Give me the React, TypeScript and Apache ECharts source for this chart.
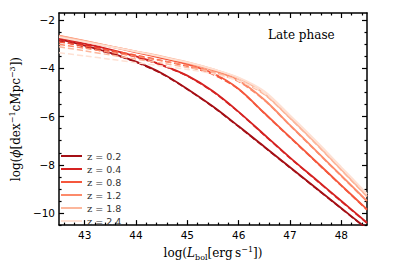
import React, { useEffect, useRef } from "react";
import * as echarts from "echarts";

const LUM = [42.5, 43, 43.5, 44, 44.5, 45, 45.5, 46, 46.5, 47, 47.5, 48, 48.5];
const Z_LABELS = ["0.2", "0.4", "0.8", "1.2", "1.8", "2.4"];
const COLORS = ["#a50f15", "#d52221", "#f5573c", "#fc8a6a", "#fcb79c", "#fee1d4"];

const SOLID_02 = [-2.78, -3.05, -3.35, -3.72, -4.2, -4.85, -5.58, -6.4, -7.25, -8.1, -8.95, -9.8, -10.65];
const SOLID_04 = [-2.72, -2.97, -3.22, -3.5, -3.85, -4.3, -4.95, -5.8, -6.75, -7.7, -8.6, -9.5, -10.4];
const SOLID_08 = [-2.66, -2.88, -3.1, -3.33, -3.57, -3.83, -4.2, -4.85, -5.85, -6.85, -7.85, -8.85, -9.85];
const SOLID_12 = [-2.64, -2.86, -3.08, -3.3, -3.52, -3.77, -4.08, -4.5, -5.3, -6.35, -7.4, -8.45, -9.5];
const SOLID_18 = [-2.66, -2.87, -3.08, -3.29, -3.5, -3.74, -4.03, -4.4, -5.05, -6.05, -7.1, -8.2, -9.3];
const SOLID_24 = [-2.7, -2.9, -3.1, -3.3, -3.52, -3.75, -4.03, -4.38, -4.95, -5.95, -7.0, -8.1, -9.2];

const DASH_02 = [-2.86, -3.1, -3.38, -3.74, -4.22, -4.87, -5.6, -6.42, -7.27, -8.12, -8.97, -9.82, -10.67];
const DASH_04 = [-2.8, -3.02, -3.26, -3.53, -3.87, -4.32, -4.97, -5.82, -6.77, -7.72, -8.62, -9.52, -10.42];
const DASH_08 = [-2.9, -3.07, -3.25, -3.45, -3.67, -3.92, -4.25, -4.87, -5.87, -6.87, -7.87, -8.87, -9.87];
const DASH_12 = [-3.0, -3.16, -3.33, -3.5, -3.68, -3.88, -4.14, -4.55, -5.32, -6.37, -7.42, -8.47, -9.52];
const DASH_18 = [-3.1, -3.27, -3.44, -3.61, -3.78, -3.96, -4.16, -4.5, -5.08, -6.07, -7.12, -8.22, -9.32];
const DASH_24 = [-3.35, -3.48, -3.62, -3.76, -3.9, -4.04, -4.22, -4.52, -5.02, -5.97, -7.02, -8.12, -9.22];

const SOLIDS = [SOLID_02, SOLID_04, SOLID_08, SOLID_12, SOLID_18, SOLID_24];
const DASHES = [DASH_02, DASH_04, DASH_08, DASH_12, DASH_18, DASH_24];

const X_MAJOR = [43, 44, 45, 46, 47, 48];
const X_MINOR = [42.6, 42.8, 43.2, 43.4, 43.6, 43.8, 44.2, 44.4, 44.6, 44.8, 45.2, 45.4, 45.6, 45.8, 46.2, 46.4, 46.6, 46.8, 47.2, 47.4, 47.6, 47.8, 48.2, 48.4];
const Y_MAJOR = [-10, -8, -6, -4, -2];
const Y_MINOR = [-10.5, -9.5, -9, -8.5, -7.5, -7, -6.5, -5.5, -5, -4.5, -3.5, -3, -2.5];

const X_MIN = 42.5, X_MAX = 48.5, Y_MIN = -10.5, Y_MAX = -1.7;

const SERIF = "'DejaVu Serif', serif";
const SANS = "'DejaVu Sans', sans-serif";

export default function App() {
  const ref = useRef<HTMLDivElement>(null);
  useEffect(() => {
    if (!ref.current) return;
    const chart = echarts.init(ref.current, null, { renderer: "svg" });
    const axisLine = { show: true, lineStyle: { color: "#000", width: 1.5 } };
    const mkX = (position: string, values: number[], len: number, labels: boolean, line: boolean, extra: any = {}) => ({
      type: "value", position, min: X_MIN, max: X_MAX,
      axisLine: line ? axisLine : { show: false },
      axisTick: { show: true, inside: true, length: len, customValues: values, lineStyle: { color: "#000", width: 1.2 } },
      axisLabel: labels ? { show: true, customValues: values, color: "#000", fontSize: 10.5, fontFamily: SANS, margin: 4 } : { show: false },
      splitLine: { show: false },
      ...extra,
    });
    const mkY = (position: string, values: number[], len: number, labels: boolean, line: boolean, extra: any = {}) => ({
      type: "value", position, min: Y_MIN, max: Y_MAX,
      axisLine: line ? axisLine : { show: false },
      axisTick: { show: true, inside: true, length: len, customValues: values, lineStyle: { color: "#000", width: 1.2 } },
      axisLabel: labels ? { show: true, customValues: values, color: "#000", fontSize: 10.5, fontFamily: SANS, margin: 4, formatter: (v: number) => String(v).replace("-", "\u2212") } : { show: false },
      splitLine: { show: false },
      ...extra,
    });
    const series: any[] = [];
    SOLIDS.forEach((arr, i) => {
      series.push({
        name: "z = " + Z_LABELS[i], type: "line", xAxisIndex: 0, yAxisIndex: 0,
        data: LUM.map((x, k) => [x, arr[k]]), showSymbol: false, smooth: 0.3,
        lineStyle: { color: COLORS[i], width: 1.8 }, itemStyle: { color: COLORS[i] },
      });
    });
    DASHES.forEach((arr, i) => {
      series.push({
        name: "dash " + Z_LABELS[i], type: "line", xAxisIndex: 0, yAxisIndex: 0,
        data: LUM.map((x, k) => [x, arr[k]]), showSymbol: false, smooth: 0.3,
        lineStyle: { color: COLORS[i], width: 1.5, type: [6, 3] }, itemStyle: { color: COLORS[i] },
      });
    });
    chart.setOption({
      animation: false,
      backgroundColor: "#fff",
      grid: { left: 52, right: 32, top: 13, bottom: 33, containLabel: false },
      xAxis: [
        mkX("bottom", X_MAJOR, 5, true, true, {
          name: "{n|log(}{i|L}{s|bol}{n|[erg\u2009s}{p|\u22121}{n|])}",
          nameLocation: "middle", nameGap: 15,
          nameTextStyle: {
            rich: {
              n: { fontFamily: SERIF, fontSize: 12, color: "#000", lineHeight: 16, verticalAlign: "middle" },
              i: { fontFamily: SERIF, fontSize: 12, fontStyle: "italic", color: "#000", lineHeight: 16, verticalAlign: "middle" },
              s: { fontFamily: SERIF, fontSize: 8, color: "#000", verticalAlign: "bottom", lineHeight: 10 },
              p: { fontFamily: SERIF, fontSize: 8, color: "#000", verticalAlign: "top", lineHeight: 10 },
            },
          },
        }),
        mkX("bottom", X_MINOR, 2.5, false, false),
        mkX("top", X_MAJOR, 5, false, true),
        mkX("top", X_MINOR, 2.5, false, false),
      ],
      yAxis: [
        mkY("left", Y_MAJOR, 5, true, true, {
          name: "{n|log(}{i|\u03d5}{n|[dex}{p|\u22121}{n|cMpc}{p|\u22123}{n|])}",
          nameLocation: "middle", nameGap: 25,
          nameTextStyle: {
            rich: {
              n: { fontFamily: SERIF, fontSize: 12, color: "#000", lineHeight: 16, verticalAlign: "middle" },
              i: { fontFamily: SERIF, fontSize: 12, fontStyle: "italic", color: "#000", lineHeight: 16, verticalAlign: "middle" },
              p: { fontFamily: SERIF, fontSize: 8, color: "#000", verticalAlign: "top", lineHeight: 10 },
            },
          },
        }),
        mkY("left", Y_MINOR, 2.5, false, false),
        mkY("right", Y_MAJOR, 5, false, true),
        mkY("right", Y_MINOR, 2.5, false, false),
      ],
      legend: {
        data: Z_LABELS.map((z) => "z = " + z),
        orient: "vertical", left: 56, top: 146,
        icon: "rect", itemWidth: 21, itemHeight: 2, itemGap: 3,
        formatter: (name: string) => "{m|z}{t|" + name.slice(1) + "}",
        textStyle: {
          rich: {
            m: { fontFamily: SERIF, fontSize: 10, color: "#333", lineHeight: 12 },
            t: { fontFamily: SANS, fontSize: 9.5, color: "#333", lineHeight: 12 },
          },
        },
      },
      graphic: [
        { type: "text", left: 268, top: 29, style: { text: "Late phase", font: "12px " + SERIF, fill: "#000" } },
      ],
      series,
    });
    return () => chart.dispose();
  }, []);
  return <div ref={ref} style={{ position: "fixed", left: 0, top: 0, width: 399, height: 266 }} />;
}
